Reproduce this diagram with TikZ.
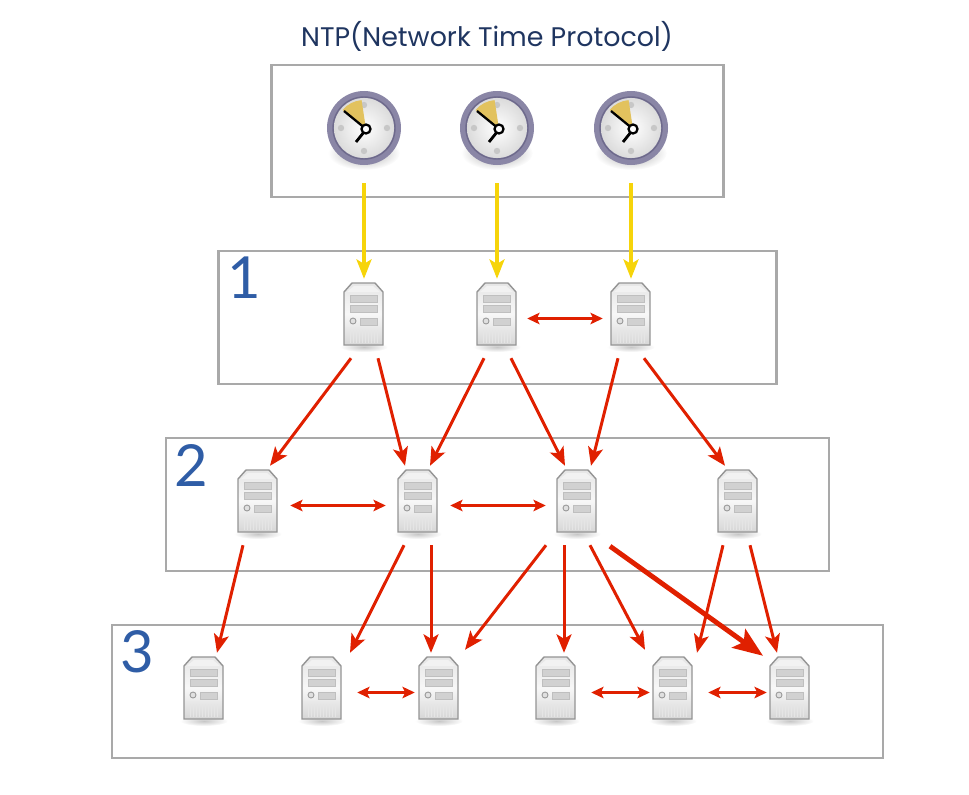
\documentclass[tikz,border=0pt]{standalone}
\usepackage{fontspec}
\setmainfont{Poppins}
\newfontfamily\numfont{Lato}
\usetikzlibrary{arrows.meta}
\definecolor{framegray}{HTML}{A9A9A9}
\definecolor{titleblue}{HTML}{1F3560}
\definecolor{tierblue}{HTML}{2F5DA6}
\definecolor{linkred}{HTML}{E02000}
\definecolor{syncyellow}{HTML}{F6D40A}
\definecolor{ringgray}{HTML}{8A86A6}
\definecolor{ringdark}{HTML}{6E6A8C}
\definecolor{wedgeyellow}{HTML}{E2C25E}
\tikzset{
  tier/.style={draw=framegray, line width=1.4pt},
  tiernum/.style={text=tierblue, font=\numfont\fontsize{33}{33}\selectfont, inner sep=0pt},
  srv/.style={minimum width=34pt, minimum height=44.8pt, inner sep=0pt},
  clk/.style={minimum width=42pt, minimum height=42pt, inner sep=0pt},
  yarrow/.style={draw=syncyellow, line width=2pt, -{Stealth[length=11pt, width=8.5pt, inset=2.5pt]}},
  rarrow/.style={draw=linkred, line width=1.7pt, -{Stealth[length=10.5pt, width=8.5pt, inset=2.5pt]}},
  rbig/.style={draw=linkred, line width=2.8pt, -{Stealth[length=17pt, width=13pt, inset=3.5pt]}},
  rboth/.style={draw=linkred, line width=1.5pt, {Stealth[length=7pt, width=6.5pt, inset=1.5pt]}-{Stealth[length=7pt, width=6.5pt, inset=1.5pt]}},
  serverpic/.pic={
    \shade [inner color=black!22, outer color=white] (0,30) ellipse (24 and 5);
    \draw [draw=black!42, line width=0.8pt, top color=black!10, bottom color=black!16, middle color=black!3]
      (-20,28) -- (-20,-25) -- (-12,-34) -- (11,-34) -- (19,-25) -- (19,28) -- cycle;
    \fill [black!5] (-17,-25) -- (-10,-31) -- (9,-31) -- (16,-25) -- cycle;
    \draw [black!25, fill=black!18, line width=0.4pt] (-14,-22) rectangle (13,-15);
    \draw [black!25, fill=black!18, line width=0.4pt] (-14,-12) rectangle (13,-5);
    \draw [black!40, fill=black!12, line width=0.5pt] (-11,4) circle (3);
    \draw [black!25, fill=black!18, line width=0.4pt] (-4,1) rectangle (13,8);
    \foreach \vx in {-14,-11,...,13} {
      \draw [black!10, line width=0.5pt] (\vx,13) -- (\vx,26);
    }
  },
  clockpic/.pic={
    \shade [inner color=black!35, outer color=white] (0,25) ellipse (36 and 17);
    \fill [ringgray] (0,0) circle (37);
    \draw [ringdark, line width=0.8pt] (0,0) circle (31);
    \shade [inner color=white, outer color=black!14] (0,0) circle (30);
    \foreach \ang in {0,90,180,270} {
      \fill [black!22] (\ang:23) circle (3.2);
    }
    \fill [wedgeyellow] (2,1) -- (-140:28) arc (-140:-95:28) -- cycle;
    \draw [black, line width=1.3pt] (2,1) -- (-20,-17);
    \draw [black, line width=1.6pt] (0,4) -- (-8,14);
    \draw [black, line width=1.3pt, fill=white] (2,1) circle (4.5);
  }
}
\begin{document}
\begin{tikzpicture}[x=0.02cm, y=-0.02cm]
  \useasboundingbox (0,0) rectangle (969,794);

  \node [text=titleblue, font=\fontsize{15.3}{17}\selectfont, inner sep=0pt] (title) at (487,36) {NTP(Network Time Protocol)};

  % boxes
  \node [tier, minimum width=257.4pt, minimum height=75.4pt, inner sep=0pt] (stratum0) at (497.5,131) {};
  \node [tier, minimum width=317.5pt, minimum height=75.9pt, inner sep=0pt] (stratum1) at (497.5,317.5) {};
  \node [tier, minimum width=377.6pt, minimum height=75.9pt, inner sep=0pt] (stratum2) at (497.5,504.5) {};
  \node [tier, minimum width=438.9pt, minimum height=75.9pt, inner sep=0pt] (stratum3) at (497.5,691.5) {};
  \node [tiernum] (num1) at (244,278) {1};
  \node [tiernum] (num2) at (191,465) {2};
  \node [tiernum] (num3) at (137,652) {3};

  % clocks
  \foreach \name/\xpos in {n1/364,n2/497,n3/631} {
    \node [clk] (\name) at (\xpos,128) {};
    \pic at (\name) {clockpic};
  }

  % servers
  \foreach \name/\xpos/\ypos in {a1/364/318.5,a2/497/318.5,a3/631/318.5,
      b1/258/505.5,b2/418/505.5,b3/577/505.5,b4/738/505.5,
      c1/204/692.5,c2/322/692.5,c3/439/692.5,c4/556/692.5,c5/673/692.5,c6/790/692.5} {
    \node [srv] (\name) at (\xpos,\ypos) {};
    \pic at ([yshift=0.85pt]\name) {serverpic};
  }

  % ntp to first level
  \draw [yarrow] ([shift={(0,18)}]n1.south) -- (a1.north);
  \draw [yarrow] ([shift={(0,18)}]n2.south) -- (a2.north);
  \draw [yarrow] ([shift={(0,18)}]n3.south) -- (a3.north);

  % first to second level
  \draw [rarrow] ([shift={(-13,0)}]a1.south) -- ([shift={(12,0)}]b1.north);
  \draw [rarrow] ([shift={(14,0)}]a1.south) -- ([shift={(-13,0)}]b2.north);
  \draw [rarrow] ([shift={(-13,0)}]a2.south) -- ([shift={(12,0)}]b2.north);
  \draw [rarrow] ([shift={(14,0)}]a2.south) -- ([shift={(-12,0)}]b3.north);
  \draw [rarrow] ([shift={(-13,0)}]a3.south) -- ([shift={(14,0)}]b3.north);
  \draw [rarrow] ([shift={(13,0)}]a3.south) -- ([shift={(-13,0)}]b4.north);

  % second to third level
  \draw [rarrow] ([shift={(-15,0)}]b1.south) -- ([shift={(13,0)}]c1.north);
  \draw [rarrow] ([shift={(-14,0)}]b2.south) -- ([shift={(28,0)}]c2.north);
  \draw [rarrow] ([shift={(13,0)}]b2.south) -- ([shift={(-8,0)}]c3.north);
  \draw [rarrow] ([shift={(-31,0)}]b3.south) -- ([shift={(26,-3)}]c3.north);
  \draw [rarrow] ([shift={(-13,0)}]b3.south) -- ([shift={(8,0)}]c4.north);
  \draw [rarrow] ([shift={(13,0)}]b3.south) -- ([shift={(-28,-3)}]c5.north);
  \draw [rarrow] ([shift={(-15,0)}]b4.south) -- ([shift={(24,0)}]c5.north);
  \draw [rarrow] ([shift={(12,0)}]b4.south) -- ([shift={(-13,0)}]c6.north);
  \draw [rbig] ([shift={(33,1)}]b3.south) -- ([shift={(-27,3)}]c6.north);

  % same level
  \draw [rboth] (a2.east) -- ([shift={(2,0)}]a3.west);
  \draw [rboth] ([shift={(2,0)}]b1.east) -- ([shift={(-2,0)}]b2.west);
  \draw [rboth] ([shift={(2,0)}]b2.east) -- ([shift={(-1,0)}]b3.west);
  \draw [rboth] ([shift={(5,0)}]c2.east) -- ([shift={(6,0)}]c3.west);
  \draw [rboth] ([shift={(5,0)}]c4.east) -- ([shift={(7,0)}]c5.west);
  \draw [rboth] ([shift={(5,0)}]c5.east) -- ([shift={(7,0)}]c6.west);
\end{tikzpicture}
\end{document}
